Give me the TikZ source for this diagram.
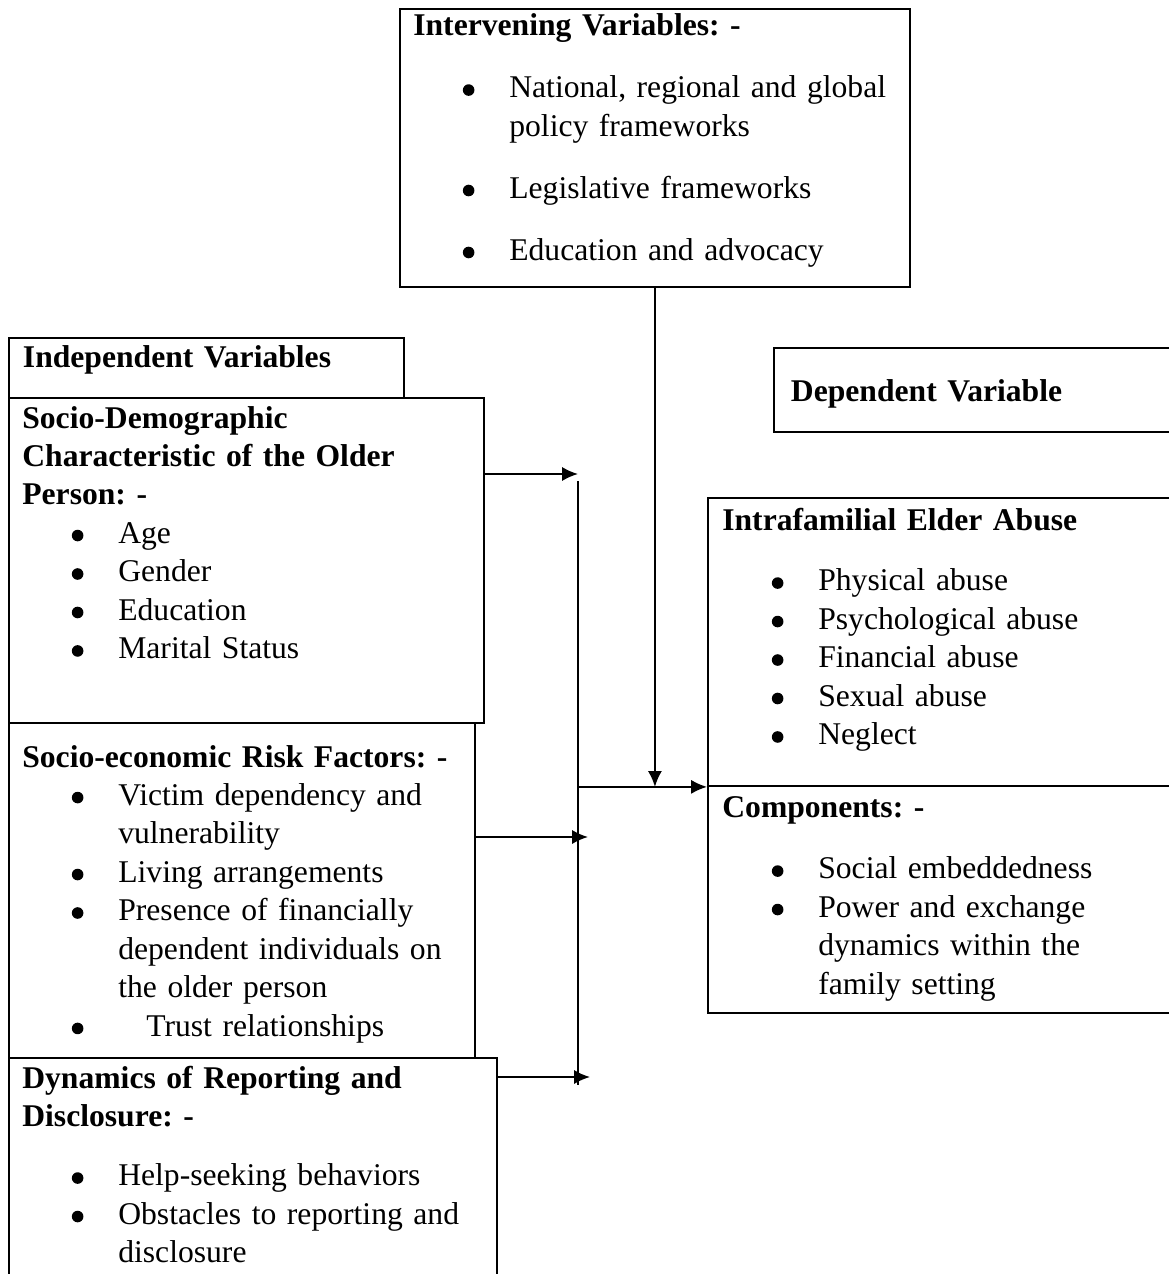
\documentclass[tikz,border=0pt]{standalone}
\usepackage{fontspec}
\setmainfont{Liberation Serif}
\usetikzlibrary{shapes,arrows.meta}
\frenchspacing

% bullet line and continuation line of a list
\newcommand{\bul}{\makebox[0pt][l]{\hspace*{0.99cm}\tikz[baseline=0pt]\fill (3.3pt,4.5pt) circle (3.3pt);}\hspace*{1.92cm}}
\newcommand{\cont}{\hspace*{1.92cm}}

\tikzset{
  box/.style={rectangle, draw, anchor=north west, inner sep=0pt},
  txt/.style={anchor=base west, inner sep=0pt, text width=12cm, align=left,
               font=\fontsize{18}{21.9}\selectfont},
}

\begin{document}
\begin{tikzpicture}[x=0.02cm, y=-0.02cm, line width=1.1pt,
                    >={Latex[length=9pt,width=8pt]}]

    \useasboundingbox (0,0) rectangle (1169,1274);
    \clip (0,0) rectangle (1169,1274);

    % intervening variables
    \node[box,
          minimum width = 10.2cm,
          minimum height = 5.56cm] (Interv) at (399,8) {};
    \node[txt] (IntervTxt) at (413,36) {\textbf{Intervening Variables: -}\\[0.47cm]
        \bul National, regional and global\\
        \cont policy frameworks\\[0.47cm]
        \bul Legislative frameworks\\[0.47cm]
        \bul Education and advocacy};

    % independent variables
    \node[box,
          minimum width = 7.9cm,
          minimum height = 1.2cm] (Indep) at (8,337) {};
    \node[txt] (IndepTxt) at (22,367) {\textbf{Independent Variables}};

    \node[box,
          minimum width = 9.5cm,
          minimum height = 6.5cm] (SocDem) at (8,397) {};
    \node[txt] (SocDemTxt) at (22,428) {\textbf{Socio-Demographic}\\
        \textbf{Characteristic of the Older}\\
        \textbf{Person: -}\\
        \bul Age\\
        \bul Gender\\
        \bul Education\\
        \bul Marital Status};

    \node[box,
          minimum width = 9.32cm,
          minimum height = 6.7cm] (SocEco) at (8,722) {};
    \node[txt] (SocEcoTxt) at (22,767) {\textbf{Socio-economic Risk Factors: -}\\
        \bul\makebox[6.8cm][s]{Victim dependency and}\\
        \cont vulnerability\\
        \bul Living arrangements\\
        \bul\makebox[6.8cm][s]{Presence of financially}\\
        \cont\makebox[6.8cm][s]{dependent individuals on}\\
        \cont the older person\\
        \bul\hspace*{0.56cm}Trust relationships};

    \node[box,
          minimum width = 9.76cm,
          minimum height = 4.6cm] (Dyn) at (8,1057) {};
    \node[txt] (DynTxt) at (22,1088) {\textbf{Dynamics of Reporting and}\\
        \textbf{Disclosure: -}\\[0.42cm]
        \bul Help-seeking behaviors\\
        \bul Obstacles to reporting and\\
        \cont disclosure};

    % dependent variable
    \node[box,
          minimum width = 8.4cm,
          minimum height = 1.68cm] (DepVar) at (773,347) {};
    \node[txt] (DepVarTxt) at (790,401) {\textbf{Dependent Variable}};

    \node[box,
          minimum width = 9.6cm,
          minimum height = 5.76cm] (Intra) at (707,497) {};
    \node[txt] (IntraTxt) at (722,530) {\textbf{Intrafamilial Elder Abuse}\\[0.45cm]
        \bul Physical abuse\\
        \bul Psychological abuse\\
        \bul Financial abuse\\
        \bul Sexual abuse\\
        \bul Neglect};

    \node[box,
          minimum width = 9.6cm,
          minimum height = 4.54cm] (Comp) at (707,785) {};
    \node[txt] (CompTxt) at (722,817) {\textbf{Components: -}\\[0.47cm]
        \bul Social embeddedness\\
        \bul Power and exchange\\
        \cont dynamics within the\\
        \cont family setting};

    % connectors
    \coordinate (inA) at (578,474);
    \coordinate (inB) at (588,837);
    \coordinate (inC) at (590,1077);
    \coordinate (busTop) at (578,481);
    \coordinate (busBot) at (578,1085);
    \coordinate (busMid) at (busTop |- Intra.south);

    \draw[->] (inA -| SocDem.east) -- (inA);
    \draw[->] (inB -| SocEco.east) -- (inB);
    \draw[->] (inC -| Dyn.east) -- (inC);
    \draw (busTop) -- (busBot);
    \draw[->] (busMid) -- (busMid -| Intra.west);
    \draw[->] (Interv.south) -- (Interv.south |- busMid);

\end{tikzpicture}
\end{document}
